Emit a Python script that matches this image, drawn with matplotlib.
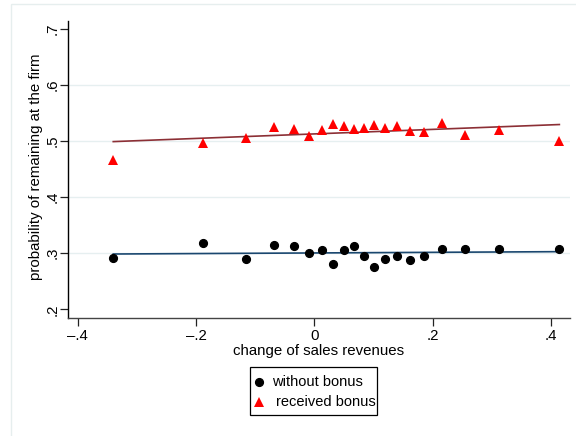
import matplotlib
matplotlib.use("Agg")
import matplotlib.pyplot as plt
from matplotlib.lines import Line2D
from matplotlib.patches import Rectangle
import numpy as np

plt.rcParams['font.family'] = ['Liberation Sans', 'DejaVu Sans']

# Binned change of sales revenues (x) and share staying at the firm (y)
x_bins = [-0.340, -0.189, -0.115, -0.068, -0.034, -0.010, 0.012, 0.032, 0.050, 0.067,
          0.083, 0.101, 0.119, 0.139, 0.161, 0.186, 0.216, 0.255, 0.312, 0.414]
y_without = [0.292, 0.318, 0.290, 0.315, 0.313, 0.300, 0.306, 0.281, 0.305, 0.313,
             0.295, 0.276, 0.289, 0.295, 0.288, 0.296, 0.308, 0.308, 0.307, 0.307]
y_received = [0.466, 0.496, 0.506, 0.525, 0.522, 0.509, 0.520, 0.531, 0.527, 0.522,
              0.524, 0.529, 0.524, 0.527, 0.518, 0.517, 0.533, 0.511, 0.520, 0.501]

# Linear fits (intercept, slope)
fit_without = [0.3006, 0.00555]
fit_received = [0.5130, 0.0404]

xticks = [-0.4, -0.2, 0.0, 0.2, 0.4]
xtick_labels = ['\u2013.4', '\u2013.2', '0', '.2', '.4']
yticks = [0.2, 0.3, 0.4, 0.5, 0.6, 0.7]
ytick_labels = ['.2', '.3', '.4', '.5', '.6', '.7']
grid_values = [0.3, 0.4, 0.5, 0.6]

W, H = 576, 436
fig = plt.figure(figsize=(W / 100, H / 100), dpi=100)
fig.patch.set_facecolor('white')

# faint outer frame of the graph region
fig.patches.append(Rectangle((10.5 / W, -0.5), 2.0, 1.5 - 4.5 / H,
                             transform=fig.transFigure, fill=False,
                             edgecolor='#e6eeee', linewidth=1.0))

left, right = 68.3 / W, 570 / W
bottom, top = 1 - 318.3 / H, 1 - 20.7 / H
ax = fig.add_axes([left, bottom, right - left, top - bottom])
ax.set_xlim(-0.416, 0.432)
ax.set_ylim(0.184, 0.715)

for g in grid_values:
    ax.axhline(g, color='#e6eff0', linewidth=1.0, zorder=0)

xs = np.array(x_bins)
xl = np.array([xs.min(), xs.max()])
ax.plot(xl, fit_received[0] + fit_received[1] * xl, color='#8c2f35', linewidth=1.2, zorder=2)
ax.plot(xl, fit_without[0] + fit_without[1] * xl, color='#1a476f', linewidth=1.2, zorder=2)

ax.plot(x_bins, y_without, linestyle='none', marker='o', markersize=5.6,
        color='black', zorder=3)
ax.plot(x_bins, y_received, linestyle='none', marker='^', markersize=7.2,
        color='#ff0000', markeredgewidth=0, zorder=3)

for s in ['top', 'right']:
    ax.spines[s].set_visible(False)
ax.spines['left'].set_color('black')
ax.spines['bottom'].set_color('#444444')
ax.spines['left'].set_linewidth(1.0)
ax.spines['bottom'].set_linewidth(1.0)

ax.set_xticks(xticks)
ax.set_xticklabels(xtick_labels)
ax.set_yticks(yticks)
ax.set_yticklabels(ytick_labels, rotation=90, va='center')
ax.tick_params(axis='both', direction='out', length=5.5, width=0.9,
               labelsize=10.8, pad=2, color='#222222')
ax.tick_params(axis='y', pad=1)

ax.set_xlabel('change of sales revenues', fontsize=10.8)
ax.xaxis.set_label_coords(0.5 - (0.5 * (left + right) * W - 318.7) / (right * W - left * W), -0.085)
ax.set_ylabel('probability of remaining at the firm', fontsize=10.8)
ax.yaxis.set_label_coords(-0.050, 0.51)

# legend box
fig.patches.append(Rectangle((250 / W, 1 - 415 / H), 127 / W, 48 / H,
                             transform=fig.transFigure, fill=False,
                             edgecolor='black', linewidth=0.9))
fig.lines.append(Line2D([259.3 / W], [1 - 382.3 / H], transform=fig.transFigure,
                        marker='o', markersize=5.6, color='black', linestyle='none'))
fig.lines.append(Line2D([259.3 / W], [1 - 402.3 / H], transform=fig.transFigure,
                        marker='^', markersize=7.2, color='#ff0000',
                        markeredgewidth=0, linestyle='none'))
fig.text(271.7 / W, 1 - 382.3 / H, 'without bonus', fontsize=10.5,
         ha='left', va='center')
fig.text(276.2 / W, 1 - 402.3 / H, 'received bonus', fontsize=10.5,
         ha='left', va='center')

fig.savefig('out.png', dpi=100, facecolor='white')
